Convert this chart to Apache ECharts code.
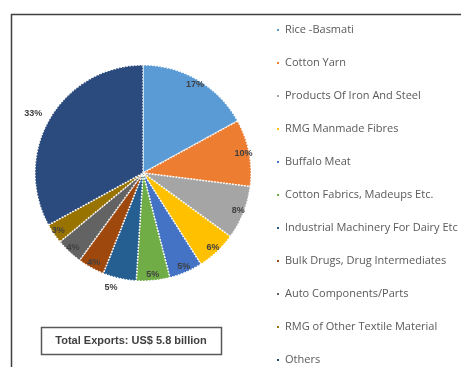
<!DOCTYPE html>
<html><head><meta charset="utf-8">
<script src="https://cdn.jsdelivr.net/npm/echarts@6/dist/echarts.min.js"></script>
<style>html,body{margin:0;padding:0;background:#fff}#c{width:461px;height:367px}</style>
</head><body><div id="c"></div>
<script>
const categories = ["Rice -Basmati","Cotton Yarn","Products Of Iron And Steel","RMG Manmade Fibres","Buffalo Meat","Cotton Fabrics, Madeups Etc.","Industrial Machinery For Dairy Etc","Bulk Drugs, Drug Intermediates","Auto Components/Parts","RMG of Other Textile Material","Others"];
const shares = [17,10,8,6,5,5,5,4,4,3,33];
const colors = ["#5B9BD5","#ED7D31","#A5A5A5","#FFC000","#4472C4","#70AD47","#255E91","#9E480E","#636363","#997300","#2B4A7E"];
const totalNote = "Total Exports: US$ 5.8 billion";
const outsideLabels = ["Industrial Machinery For Dairy Etc","Others"];

const center = [143,173];
const R = 108;
const chart = echarts.init(document.getElementById('c'));
chart.setOption({
  animation:false,
  color: colors,
  legend:{
    orient:'vertical', left:275, top:23, height:420, padding:0,
    icon:'rect', itemWidth:4, itemHeight:4, itemGap:19,
    textStyle:{fontFamily:'Open Sans', fontSize:11, color:'#595959', lineHeight:14},
    data: categories
  },
  series:[
    {
      type:'pie', center:center, radius:[0,R], startAngle:90, clockwise:true,
      label:{show:false}, labelLine:{show:false}, silent:true,
      itemStyle:{borderColor:'#fff', borderWidth:1.5, borderType:'dotted'},
      data: categories.map((n,i)=>({name:n, value:shares[i]}))
    },
    {
      type:'pie', center:center, radius:[R*0.84,R], startAngle:90, clockwise:true,
      silent:true, legendHoverLink:false,
      itemStyle:{color:'transparent', borderWidth:0},
      label:{show:true, position:'inside', formatter:'{c}%', fontFamily:'Liberation Sans', fontSize:9, fontWeight:'bold', color:'#404040'},
      labelLine:{show:false},
      data: categories.map((n,i)=>{
        const d = {name:n+' ', value:shares[i], itemStyle:{color:'transparent'}};
        if (outsideLabels.includes(n)) {
          d.label = {position:'outside', distanceToLabelLine:0};
          d.labelLine = {show:false, length:9, length2:0};
        }
        return d;
      })
    }
  ],
  graphic:[
    {type:'polyline', shape:{points:[[11.5,367],[11.5,14.5],[461,14.5]]}, style:{stroke:'#404040', lineWidth:1.5, fill:null}},
    {type:'rect', shape:{x:41.5,y:327.5,width:180,height:27}, style:{stroke:'#595959', lineWidth:1.5, fill:'#fff'}},
    {type:'text', x:131, y:341, style:{text:totalNote, fontFamily:'Liberation Sans', fontSize:11, fontWeight:'bold', fill:'#404040', align:'center', verticalAlign:'middle'}}
  ]
});
</script></body></html>
